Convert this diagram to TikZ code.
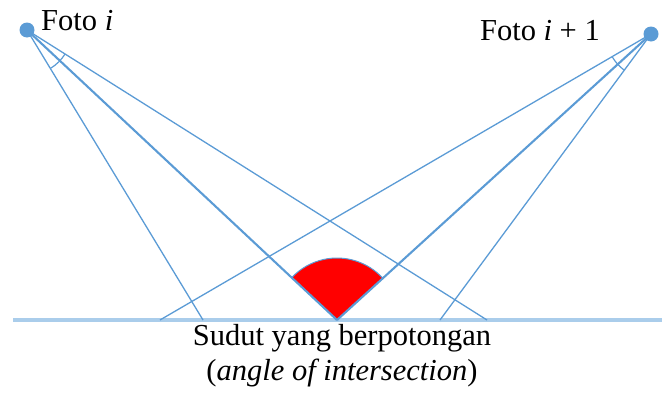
\documentclass[tikz,border=0pt]{standalone}
\usepackage{fontspec}
\setmainfont{Liberation Serif}
\usetikzlibrary{calc}
\definecolor{rayblue}{RGB}{91,155,213}
\definecolor{groundblue}{RGB}{170,205,235}
\begin{document}
\begin{tikzpicture}[x=1pt,y=-1pt,
  ray/.style={draw=rayblue, line width=1.3pt},
  mainray/.style={draw=rayblue, line width=2.1pt},
  groundline/.style={draw=groundblue, line width=4.5pt},
  cam/.style={circle, fill=rayblue, inner sep=0pt, minimum size=15pt},
  lbl/.style={font=\fontsize{30.5}{34}\selectfont, inner sep=0pt},
  anglemark/.style={draw=rayblue, line width=1.2pt}]
\useasboundingbox (0,0) rectangle (662,394);
% ground
\coordinate (groundL) at (13,320);
\coordinate (groundR) at (662,320);
\draw[groundline] (groundL) -- (groundR);
% ground points
\coordinate (gL1) at (203,320);
\coordinate (gC) at (337,320);
\coordinate (gL3) at (487,320);
\coordinate (gR1) at (160,320);
\coordinate (gR3) at (440,320);
% cameras
\node[cam] (camL) at (27,30) {};
\node[cam] (camR) at (651,34) {};
% sector
\fill[red] (gC) -- ($(gC)!62pt!(camR)$) arc[start angle=42.33, end angle=136.91, radius=62pt] -- cycle;
\draw[rayblue, line width=1pt] ($(gC)!62pt!(camR)$) arc[start angle=42.33, end angle=136.91, radius=62pt];
% rays
\draw[ray] (camL.center) -- (gL1);
\draw[mainray] (camL.center) -- (gC);
\draw[ray] (camL.center) -- (gL3);
\draw[ray] (camR.center) -- (gR1);
\draw[mainray] (camR.center) -- (gC);
\draw[ray] (camR.center) -- (gR3);
% angle marks
\draw[anglemark] ($(camL.center)!45pt!(gL1)$) arc[start angle=-58.75, end angle=-32.17, radius=45pt];
\draw[anglemark] ($(camR.center)!45pt!(gR1)$) arc[start angle=210.22, end angle=233.58, radius=45pt];
% labels
\node[lbl, anchor=west] (lblL) at (41,21) {Foto \textit{i}};
\node[lbl, anchor=east] (lblR) at (600,31) {Foto \textit{i} + 1};
\node[lbl] (cap1) at (342,338) {Sudut yang berpotongan};
\node[lbl] (cap2) at (342,373) {(\textit{angle of intersection})};
\end{tikzpicture}
\end{document}
